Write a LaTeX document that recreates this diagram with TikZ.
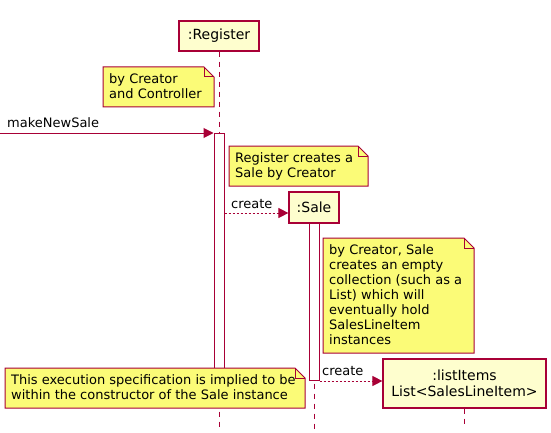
\documentclass[tikz,border=0pt]{standalone}
\usepackage{fontspec}
\setmainfont{DejaVu Sans}
\usetikzlibrary{arrows.meta}
\definecolor{bd}{HTML}{A80036}
\definecolor{partfill}{HTML}{FEFECE}
\definecolor{notefill}{HTML}{FBFB77}
\pgfdeclarelayer{back}
\pgfdeclarelayer{notes}
\pgfsetlayers{back,notes,main}
\tikzset{
  part/.style={draw=bd, fill=partfill, line width=1.2pt, inner sep=0pt, align=center,
    font=\fontsize{14}{16.5}\selectfont, text=black},
  actbar/.style={draw=bd, fill=white, line width=1pt, inner sep=0pt, minimum width=10pt},
  notetext/.style={inner sep=0pt, align=left, anchor=north west,
    font=\fontsize{13}{15}\selectfont, text=black},
  noteshape/.style={draw=bd, fill=notefill, line width=1pt},
  lifeline/.style={draw=bd, line width=1pt, dash pattern=on 5pt off 5pt},
  msg/.style={draw=bd, line width=1pt, -{Triangle[length=10pt,width=10pt]}},
  dmsg/.style={msg, dash pattern=on 2pt off 2pt},
  lbl/.style={font=\fontsize{13}{15}\selectfont, inner sep=0pt, anchor=base west, text=black},
}
\newcommand{\notefold}[1]{% #1 box name
  \begin{pgfonlayer}{notes}
  \path[noteshape] (#1 nw) -- ([xshift=-10pt]#1 ne) coordinate (#1 f1) -- ([yshift=-10pt]#1 ne) coordinate (#1 f2) -- (#1 se) -- (#1 sw) -- cycle;
  \draw[bd, line width=1pt] (#1 f1) -- ([xshift=-10pt]#1 f2) -- (#1 f2);
  \end{pgfonlayer}}
\begin{document}
\begin{tikzpicture}[x=1pt,y=-1pt]
\useasboundingbox (0,0) rectangle (551,433);
% participants
\node[part, minimum width=80pt, minimum height=30pt] (reg) at (219,36) {:Register};
\node[part, minimum width=50pt, minimum height=31pt] (sale) at (314,207.5) {:Sale};
\node[part, minimum width=163pt, minimum height=49pt] (list) at (464.5,383.5) {:listItems\\List<SalesLineItem>};
% lifelines and activations
\coordinate (regend) at (219,430);
\coordinate (saleend) at (314,430);
\coordinate (listend) at (464.5,428);
\begin{pgfonlayer}{back}
\draw[lifeline] (reg.south) -- (regend);
\draw[lifeline] (sale.south) -- (saleend);
\draw[lifeline] (list.south) -- (listend);
\node[actbar, minimum height=247pt, anchor=north] (act1) at (219,133) {};
\node[actbar, minimum height=157pt, anchor=north] (act2) at (314,223) {};
\end{pgfonlayer}
% notes
\coordinate (n1 nw) at (103,67); \coordinate (n1 ne) at (214,67);
\coordinate (n1 se) at (214,107); \coordinate (n1 sw) at (103,107);
\notefold{n1}
\node[notetext] (note1) at (109,73) {by Creator\\and Controller};

\coordinate (n2 nw) at (229,146); \coordinate (n2 ne) at (368,146);
\coordinate (n2 se) at (368,186); \coordinate (n2 sw) at (229,186);
\notefold{n2}
\node[notetext] (note2) at (235,152) {Register creates a\\Sale by Creator};

\coordinate (n3 nw) at (323,238); \coordinate (n3 ne) at (474,238);
\coordinate (n3 se) at (474,353); \coordinate (n3 sw) at (323,353);
\notefold{n3}
\node[notetext] (note3) at (329,244) {by Creator, Sale\\creates an empty\\collection (such as a\\List) which will\\eventually hold\\SalesLineItem\\instances};

\coordinate (n4 nw) at (5,368); \coordinate (n4 ne) at (305,368);
\coordinate (n4 se) at (305,408); \coordinate (n4 sw) at (5,408);
\notefold{n4}
\node[notetext] (note4) at (11,374) {This execution specification is implied to be\\within the constructor of the Sale instance};
% messages
\coordinate (start) at (0,133);
\draw[msg] (start) -- (act1.north west);
\node[lbl] (m1) at (7,128) {makeNewSale};
\draw[dmsg] (act1.east |- sale.west) ++(0,5.5) coordinate (c1s) -- (sale.west |- c1s);
\node[lbl] (m2) at (231,208) {create};
\draw[dmsg] (act2.south east) -- (list.west |- act2.south);
\node[lbl] (m3) at (322,375.5) {create};
\end{tikzpicture}
\end{document}
